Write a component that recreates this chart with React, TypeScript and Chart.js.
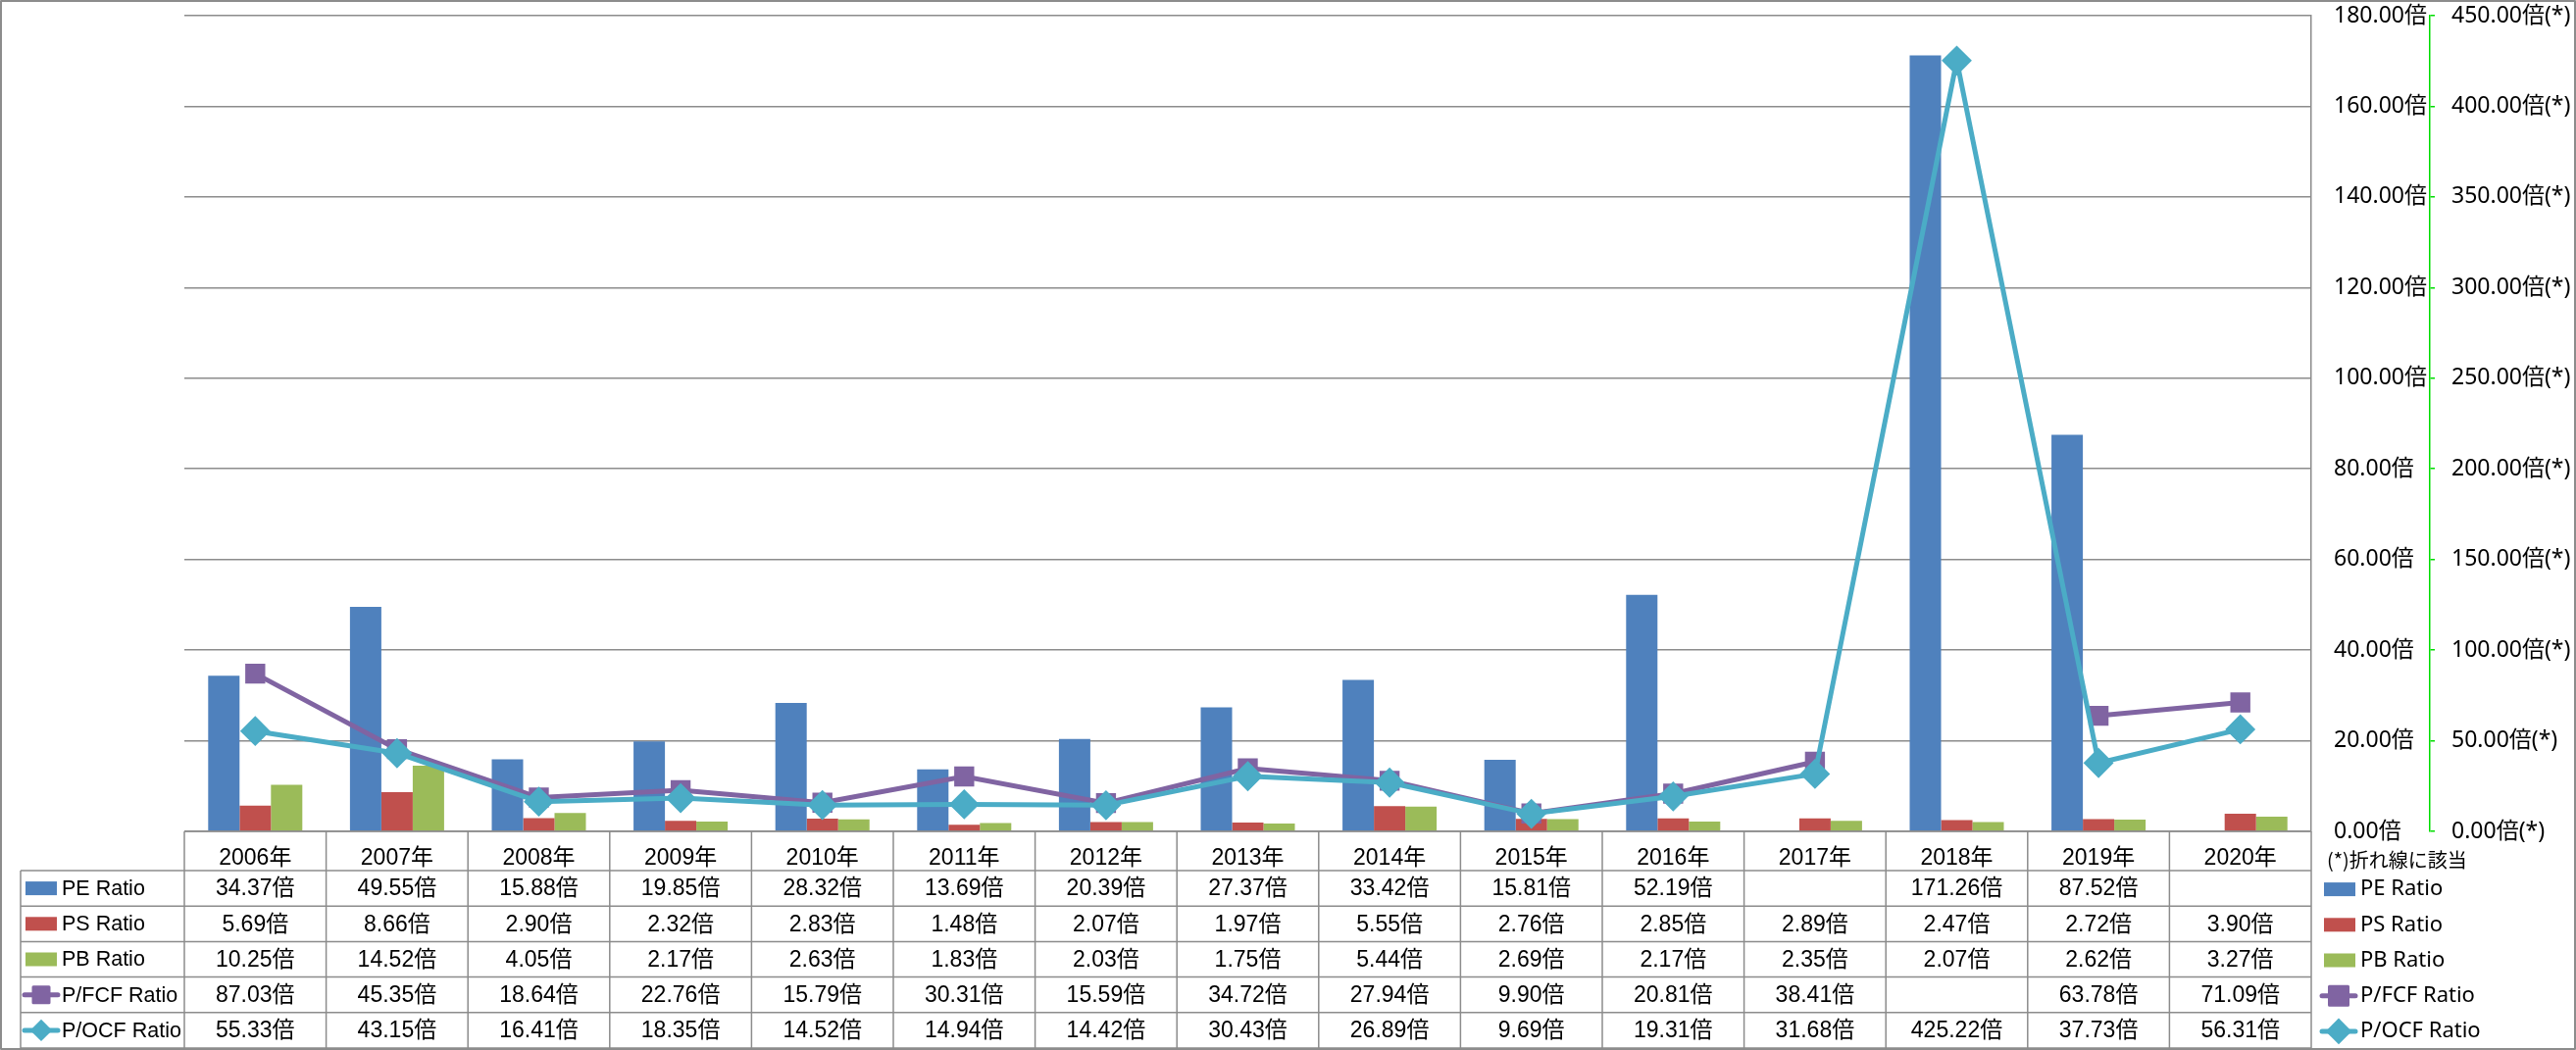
import React, { useEffect, useRef } from 'react';
import { Chart, registerables } from 'chart.js';

Chart.register(...registerables);

const categories = ['2006年', '2007年', '2008年', '2009年', '2010年', '2011年', '2012年', '2013年', '2014年', '2015年', '2016年', '2017年', '2018年', '2019年', '2020年'];
const peRatio = [34.37, 49.55, 15.88, 19.85, 28.32, 13.69, 20.39, 27.37, 33.42, 15.81, 52.19, null, 171.26, 87.52, null];
const psRatio = [5.69, 8.66, 2.90, 2.32, 2.83, 1.48, 2.07, 1.97, 5.55, 2.76, 2.85, 2.89, 2.47, 2.72, 3.90];
const pbRatio = [10.25, 14.52, 4.05, 2.17, 2.63, 1.83, 2.03, 1.75, 5.44, 2.69, 2.17, 2.35, 2.07, 2.62, 3.27];
const pfcfRatio = [87.03, 45.35, 18.64, 22.76, 15.79, 30.31, 15.59, 34.72, 27.94, 9.90, 20.81, 38.41, null, 63.78, 71.09];
const pocfRatio = [55.33, 43.15, 16.41, 18.35, 14.52, 14.94, 14.42, 30.43, 26.89, 9.69, 19.31, 31.68, 425.22, 37.73, 56.31];

const seriesNames = ['PE Ratio', 'PS Ratio', 'PB Ratio', 'P/FCF Ratio', 'P/OCF Ratio'];
const seriesColors = ['#4F81BD', '#C0504D', '#9BBB59', '#8064A2', '#4BACC6'];
const seriesKinds = ['bar', 'bar', 'bar', 'square', 'diamond'];
const seriesData = [peRatio, psRatio, pbRatio, pfcfRatio, pocfRatio];

const primaryMax = 180;
const primaryStep = 20;
const secondaryMax = 450;
const secondaryStep = 50;
const primarySuffix = '倍';
const secondarySuffix = '倍(*)';
const noteText = '(*)折れ線に該当';

const TABLEFONT = "'Liberation Sans', 'Noto Sans CJK JP', sans-serif";
const SANS = "'Noto Sans', 'Noto Sans CJK JP', sans-serif";
const GRID = '#8c8c8c';
const GREEN = '#00dd00';

function drawMarker(ctx: CanvasRenderingContext2D, kind: string, x: number, cy: number, color: string, sq: number) {
  if (kind === 'bar') {
    ctx.fillStyle = color;
    ctx.fillRect(x, cy - 7, 32, 14);
    return;
  }
  ctx.strokeStyle = color;
  ctx.fillStyle = color;
  ctx.lineWidth = 5;
  ctx.lineCap = 'round';
  ctx.beginPath();
  ctx.moveTo(x, cy);
  ctx.lineTo(x + 34, cy);
  ctx.stroke();
  const cx = x + 17;
  if (kind === 'square') {
    ctx.lineJoin = 'round';
    ctx.lineWidth = 3;
    ctx.beginPath();
    ctx.rect(cx - sq / 2, cy - sq / 2, sq, sq);
    ctx.fill();
    ctx.stroke();
  } else {
    const r = sq * 0.7;
    ctx.beginPath();
    ctx.moveTo(cx - r, cy);
    ctx.lineTo(cx, cy - r);
    ctx.lineTo(cx + r, cy);
    ctx.lineTo(cx, cy + r);
    ctx.closePath();
    ctx.fill();
  }
}

const tablePlugin = {
  id: 'dataTable',
  afterDraw(chart: any) {
    const ctx: CanvasRenderingContext2D = chart.ctx;
    const area = chart.chartArea;
    const xs = chart.scales.x;
    const n = categories.length;
    const colW = (area.right - area.left) / n;
    const headerTop = area.bottom;
    const headerBottom = xs.bottom;
    const tableBottom = chart.height - 2;
    const rowH = (tableBottom - headerBottom) / seriesNames.length;
    const labelLeft = 21;

    ctx.save();
    ctx.strokeStyle = GRID;
    ctx.lineWidth = 1.5;
    const line = (x1: number, y1: number, x2: number, y2: number) => {
      ctx.beginPath();
      ctx.moveTo(x1, y1);
      ctx.lineTo(x2, y2);
      ctx.stroke();
    };
    line(area.left, headerTop, area.right, headerTop);
    for (let r = 0; r <= seriesNames.length; r++) {
      const y = headerBottom + r * rowH;
      line(labelLeft, y, area.right, y);
    }
    for (let i = 0; i <= n; i++) {
      const x = area.left + i * colW;
      line(x, headerTop, x, tableBottom);
    }
    line(labelLeft, headerBottom, labelLeft, tableBottom);

    // values
    ctx.fillStyle = '#000';
    ctx.font = `23px ${TABLEFONT}`;
    ctx.textAlign = 'center';
    ctx.textBaseline = 'middle';
    seriesData.forEach((arr, r) => {
      const cy = headerBottom + (r + 0.5) * rowH + 1;
      arr.forEach((v, i) => {
        if (v === null || v === undefined) return;
        ctx.fillText(v.toFixed(2) + primarySuffix, area.left + (i + 0.5) * colW, cy);
      });
    });

    // row labels
    seriesNames.forEach((name, r) => {
      const cy = headerBottom + (r + 0.5) * rowH;
      const kind = seriesKinds[r];
      drawMarker(ctx, kind, kind === 'bar' ? 26 : 25, cy, seriesColors[r], 16);
      ctx.fillStyle = '#000';
      ctx.font = `21.5px ${TABLEFONT}`;
      ctx.textAlign = 'left';
      ctx.textBaseline = 'middle';
      ctx.fillText(name, 63, cy + 1);
    });

    // right legend
    ctx.fillStyle = '#000';
    ctx.font = `20px 'Noto Sans CJK JP', sans-serif`;
    ctx.textAlign = 'left';
    ctx.textBaseline = 'middle';
    ctx.fillText(noteText, 2373, 877);
    seriesNames.forEach((name, r) => {
      const cy = headerBottom + (r + 0.5) * rowH + 1;
      const kind = seriesKinds[r];
      drawMarker(ctx, kind, kind === 'bar' ? 2370 : 2368, cy, seriesColors[r], 19);
      ctx.fillStyle = '#000';
      ctx.font = `22px ${SANS}`;
      ctx.textAlign = 'left';
      ctx.textBaseline = 'middle';
      ctx.fillText(name, 2407, cy);
    });

    // outer border
    ctx.strokeStyle = GRID;
    ctx.lineWidth = 2;
    ctx.strokeRect(1, 1, chart.width - 2, chart.height - 2);
    ctx.restore();
  },
};

export default function App() {
  const ref = useRef<HTMLCanvasElement>(null);
  useEffect(() => {
    document.body.style.margin = '0';
    document.body.style.overflow = 'hidden';
    const canvas = ref.current!;
    const barDs = (i: number) => ({
      type: 'bar' as const,
      label: seriesNames[i],
      data: seriesData[i],
      backgroundColor: seriesColors[i],
      borderWidth: 0,
      yAxisID: 'y',
      order: 3,
      barPercentage: 1,
      categoryPercentage: 0.664,
    });
    const lineDs = (i: number, style: string, radius: number, order: number) => ({
      type: 'line' as const,
      label: seriesNames[i],
      data: seriesData[i],
      borderColor: seriesColors[i],
      backgroundColor: seriesColors[i],
      borderWidth: 5,
      pointStyle: style,
      pointRadius: radius,
      pointBorderWidth: 2,
      pointBackgroundColor: seriesColors[i],
      pointBorderColor: seriesColors[i],
      tension: 0,
      spanGaps: false,
      yAxisID: 'y2',
      order,
    });
    const chart = new Chart(canvas, {
      type: 'bar',
      data: {
        labels: categories,
        datasets: [barDs(0), barDs(1), barDs(2), lineDs(3, 'rect', 13, 1), lineDs(4, 'rectRot', 14, 0)] as any,
      },
      options: {
        responsive: false,
        animation: false,
        devicePixelRatio: 1,
        layout: { padding: { left: 188, top: 16, right: 0, bottom: 183 } },
        plugins: { legend: { display: false }, tooltip: { enabled: false } },
        scales: {
          x: {
            type: 'category',
            offset: true,
            grid: { display: false },
            border: { display: false },
            ticks: { color: '#000', font: { family: TABLEFONT, size: 23 }, padding: 6, maxRotation: 0, autoSkip: false },
            afterFit: (s: any) => { s.height = 40; s.paddingLeft = 0; s.paddingRight = 0; },
          },
          y: {
            position: 'right',
            weight: 0,
            min: 0,
            max: primaryMax,
            ticks: {
              stepSize: primaryStep,
              color: '#000',
              padding: 23,
              font: { family: SANS, size: 23 },
              callback: (v: any) => Number(v).toFixed(2) + primarySuffix,
            },
            grid: { color: GRID, lineWidth: 1.5, drawTicks: false },
            border: { display: true, color: GRID, width: 1.5 },
            afterFit: (s: any) => { s.width = 121; s.paddingTop = 0; s.paddingBottom = 0; },
          },
          y2: {
            position: 'right',
            weight: 1,
            min: 0,
            max: secondaryMax,
            ticks: {
              stepSize: secondaryStep,
              color: '#000',
              padding: 17,
              font: { family: SANS, size: 23 },
              callback: (v: any) => Number(v).toFixed(2) + secondarySuffix,
            },
            grid: { drawOnChartArea: false, drawTicks: true, tickLength: 5, color: GREEN, lineWidth: 1.5 },
            border: { display: true, color: GREEN, width: 1.5, dash: [6, 3] },
            afterFit: (s: any) => { s.width = 149; s.paddingTop = 0; s.paddingBottom = 0; },
          },
        },
      } as any,
      plugins: [tablePlugin],
    });
    return () => chart.destroy();
  }, []);
  return <canvas ref={ref} width={2627} height={1071} style={{ display: 'block' }} />;
}
